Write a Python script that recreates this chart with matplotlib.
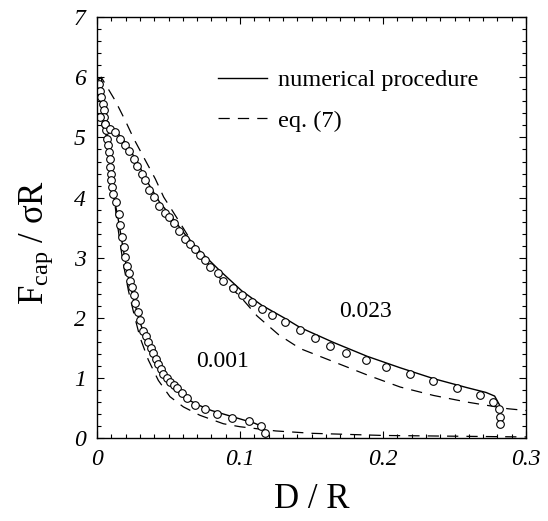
import matplotlib
matplotlib.use("Agg")
import matplotlib.pyplot as plt
from matplotlib.ticker import MultipleLocator

plt.rcParams['font.family'] = ['Liberation Serif', 'DejaVu Serif']
plt.rcParams['mathtext.default'] = 'regular'

# ---- data ----
# circles, case 0.001
d_001 = [0.0016, 0.0023, 0.003, 0.004, 0.0047, 0.0051, 0.0058, 0.0065, 0.0072,
         0.0077, 0.0082, 0.0089, 0.0093, 0.0098, 0.010, 0.0105, 0.011, 0.0133,
         0.0152, 0.0163, 0.0175, 0.0187, 0.0198, 0.021, 0.0222, 0.0233, 0.0245,
         0.0257, 0.0268, 0.0285, 0.0303, 0.0324, 0.0341, 0.0359, 0.0376, 0.0394,
         0.041, 0.0429, 0.0446, 0.0464, 0.0487, 0.0511, 0.0535, 0.0562, 0.0595,
         0.0628, 0.0686, 0.0756, 0.0838, 0.0943, 0.1066, 0.1146, 0.1176]
f_001 = [5.89, 5.78, 5.67, 5.56, 5.45, 5.34, 5.23, 5.12, 4.98,
         4.87, 4.76, 4.65, 4.51, 4.40, 4.29, 4.17, 4.06, 3.93,
         3.73, 3.54, 3.34, 3.18, 3.01, 2.87, 2.74, 2.62, 2.51,
         2.38, 2.24, 2.10, 1.96, 1.79, 1.70, 1.60, 1.50, 1.41,
         1.32, 1.24, 1.15, 1.06, 1.00, 0.94, 0.88, 0.83, 0.75,
         0.66, 0.55, 0.48, 0.40, 0.34, 0.28, 0.20, 0.09]

# circles, case 0.023
d_023 = [0.0023, 0.0058, 0.0093, 0.0128, 0.0163, 0.0198, 0.0222, 0.0257, 0.028,
         0.0315, 0.0338, 0.0365, 0.0398, 0.0436, 0.0476, 0.0501, 0.0535, 0.0575,
         0.0615, 0.065, 0.0685, 0.072, 0.0755, 0.079, 0.0848, 0.0883, 0.0953,
         0.1012, 0.1082, 0.1152, 0.1222, 0.1316, 0.142, 0.1526, 0.163, 0.174,
         0.188, 0.202, 0.2186, 0.2347, 0.2517, 0.268, 0.277, 0.281, 0.282, 0.282]
f_023 = [5.34, 5.23, 5.14, 5.09, 4.98, 4.87, 4.78, 4.65, 4.53,
         4.40, 4.29, 4.12, 4.01, 3.86, 3.74, 3.68, 3.57, 3.45,
         3.32, 3.23, 3.15, 3.04, 2.96, 2.85, 2.74, 2.62, 2.49,
         2.38, 2.26, 2.15, 2.04, 1.93, 1.80, 1.66, 1.54, 1.42,
         1.30, 1.18, 1.06, 0.95, 0.84, 0.72, 0.60, 0.48, 0.36, 0.23]

# numerical procedure (solid)
num_d_001 = [0.0, 0.003, 0.006, 0.009, 0.0115, 0.015, 0.0185, 0.022, 0.026, 0.03,
             0.035, 0.04, 0.045, 0.05, 0.056, 0.063, 0.07, 0.08, 0.09, 0.10,
             0.11, 0.115]
num_f_001 = [5.9, 5.62, 5.1, 4.55, 4.05, 3.62, 3.12, 2.68, 2.27, 1.93,
             1.60, 1.33, 1.12, 0.96, 0.80, 0.65, 0.56, 0.46, 0.39, 0.32,
             0.25, 0.20]
num_d_023 = [0.0, 0.006, 0.0128, 0.0198, 0.028, 0.035, 0.0436, 0.0535, 0.0615,
             0.072, 0.0848, 0.1012, 0.1152, 0.1316, 0.142, 0.1655, 0.189, 0.212,
             0.2353, 0.2587, 0.272, 0.278, 0.2815]
num_f_023 = [5.34, 5.25, 5.12, 4.92, 4.60, 4.27, 3.93, 3.64, 3.39,
             3.11, 2.81, 2.45, 2.21, 1.99, 1.84, 1.59, 1.36, 1.17,
             0.99, 0.84, 0.76, 0.70, 0.55]

# eq. (7) (dashed)
eq_d_001 = [0.0, 0.003, 0.006, 0.010, 0.014, 0.018, 0.022, 0.026, 0.030, 0.0359,
            0.0429, 0.051, 0.0604, 0.072, 0.0883, 0.10, 0.125, 0.151, 0.20, 0.30]
eq_f_001 = [5.95, 6.0, 5.3, 4.4, 3.6, 2.95, 2.45, 2.05, 1.68, 1.30,
            0.96, 0.69, 0.52, 0.38, 0.24, 0.19, 0.12, 0.08, 0.045, 0.02]
eq_d_023 = [0.0, 0.003, 0.0128, 0.0198, 0.0257, 0.0338, 0.0408, 0.0466, 0.057,
            0.07, 0.086, 0.10, 0.112, 0.127, 0.142, 0.1655, 0.189, 0.212,
            0.2353, 0.2587, 0.287, 0.30]
eq_f_023 = [5.95, 6.0, 5.61, 5.28, 4.98, 4.62, 4.31, 4.01, 3.62,
            3.12, 2.66, 2.36, 2.03, 1.72, 1.49, 1.27, 1.05, 0.85,
            0.71, 0.60, 0.49, 0.46]

case_labels = ["0.001", "0.023"]

# ---- figure ----
fig = plt.figure(figsize=(5.48, 5.21), dpi=100)
ax = fig.add_axes([0.177, 0.159, 0.783, 0.808])

dash = (0, (9, 6.5))
ax.plot(num_d_001, num_f_001, color='black', lw=1.0, label='numerical procedure')
ax.plot(num_d_023, num_f_023, color='black', lw=1.0)
ax.plot(eq_d_001, eq_f_001, color='black', lw=0.9, linestyle=dash, label='eq. (7)')
ax.plot(eq_d_023, eq_f_023, color='black', lw=0.9, linestyle=dash)

ax.plot(d_001, f_001, 'o', ms=5.5, mfc='white', mec='black', mew=0.8)
ax.plot(d_023, f_023, 'o', ms=5.5, mfc='white', mec='black', mew=0.8)

ax.text(0.088, 1.27, case_labels[0], fontsize=17, ha='center', va='center')
ax.text(0.188, 2.10, case_labels[1], fontsize=17, ha='center', va='center')

ax.set_xlim(0, 0.3)
ax.set_ylim(0, 7)
ax.xaxis.set_major_locator(MultipleLocator(0.1))
ax.xaxis.set_minor_locator(MultipleLocator(0.01))
ax.yaxis.set_major_locator(MultipleLocator(1))
ax.yaxis.set_minor_locator(MultipleLocator(0.2))
ax.set_xticks([0, 0.1, 0.2, 0.3])
ax.set_xticklabels(["0", "0.1", "0.2", "0.3"])
ax.tick_params(which='both', direction='in', top=True, right=True, width=0.8)
ax.tick_params(which='major', length=5, labelsize=17, pad=8)
ax.tick_params(which='minor', length=3)
for lab in ax.get_xticklabels() + ax.get_yticklabels():
    lab.set_fontstyle('italic')
for s in ax.spines.values():
    s.set_linewidth(1.0)

ax.set_xlabel("D / R", fontsize=25, labelpad=9)
ax.set_ylabel(r"F$_{cap}$ / $\sigma$R", fontsize=25, labelpad=14, y=0.465)

ax.legend(loc='upper left', bbox_to_anchor=(0.282, 0.876), frameon=False,
          borderpad=0, borderaxespad=0, fontsize=17.5, handlelength=2.0,
          handletextpad=0.45, labelspacing=0.75)

fig.savefig("out.png", dpi=100)
